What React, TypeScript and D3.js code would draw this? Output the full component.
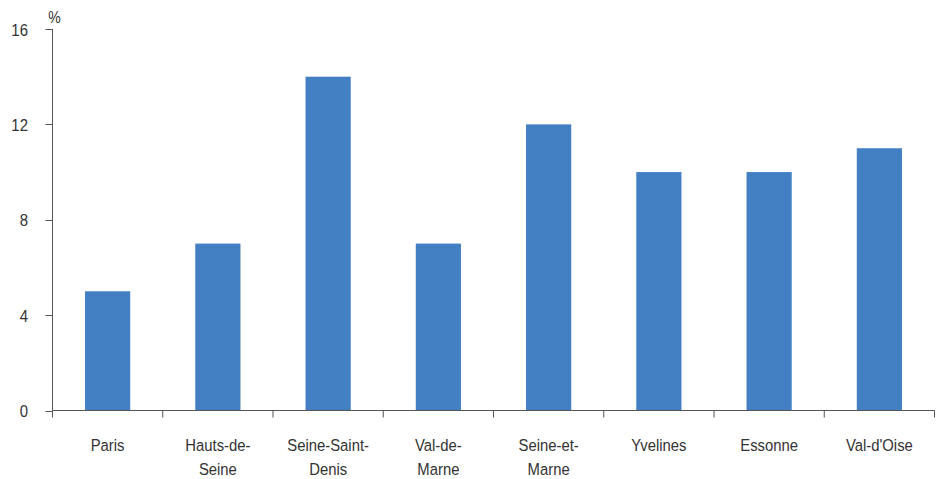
import React from "react";
import * as d3 from "d3";

const categories: string[][] = [
  ["Paris"],
  ["Hauts-de-", "Seine"],
  ["Seine-Saint-", "Denis"],
  ["Val-de-", "Marne"],
  ["Seine-et-", "Marne"],
  ["Yvelines"],
  ["Essonne"],
  ["Val-d'Oise"],
];
const values: number[] = [5, 7, 14, 7, 12, 10, 10, 11];
const yTicks: number[] = [0, 4, 8, 12, 16];

const W = 944;
const H = 479;
const left = 52.5;
const right = 934.5;
const top = 29;
const bottom = 410.5;
const SX = 0.88;
const SXC = 0.9;

export default function App() {
  const ids = categories.map((_, i) => String(i));
  const x = d3.scaleBand<string>().domain(ids).range([left, right]).paddingInner(0.59).paddingOuter(0.295);
  const xb = d3.scaleBand<string>().domain(ids).range([left, right]);
  const y = d3.scaleLinear().domain([0, 16]).range([bottom, top]);
  const font = "'Liberation Sans', Arial, sans-serif";
  const textColor = "#333";
  const axisColor = "#555";
  return (
    <svg width={W} height={H} style={{ position: "absolute", left: 0, top: 0 }} fontFamily={font}>
      {values.map((v, i) => (
        <rect key={i} x={x(String(i))} y={y(v)} width={x.bandwidth()} height={y(0) - y(v)} fill="#4380C3" />
      ))}
      <line x1={left} x2={left} y1={top} y2={bottom} stroke={axisColor} strokeWidth={1} />
      {yTicks.map((t) => (
        <g key={t}>
          <line x1={left - 7} x2={left} y1={Math.round(y(t)) + 0.5} y2={Math.round(y(t)) + 0.5} stroke={axisColor} />
          <g transform={`translate(28,${y(t) + 6.5}) scale(${SX},1)`}>
            <text textAnchor="end" fontSize={17} fill={textColor}>{t}</text>
          </g>
        </g>
      ))}
      <g transform={`translate(54.5,23) scale(${SX},1)`}>
        <text textAnchor="middle" fontSize={16} fill={textColor}>%</text>
      </g>
      <line x1={left} x2={right} y1={bottom} y2={bottom} stroke={axisColor} />
      {ids.map((id) => (
        <line key={id} x1={xb(id)!} x2={xb(id)!} y1={bottom} y2={bottom + 7} stroke={axisColor} />
      ))}
      <line x1={right} x2={right} y1={bottom} y2={bottom + 7} stroke={axisColor} />
      {categories.map((lines, i) => (
        <g key={i} transform={`translate(${xb(String(i))! + xb.bandwidth() / 2},451) scale(${SXC},1)`}>
          {lines.map((l, j) => (
            <text key={j} x={0} y={j * 24} textAnchor="middle" fontSize={16.5} fill={textColor}>{l}</text>
          ))}
        </g>
      ))}
    </svg>
  );
}
